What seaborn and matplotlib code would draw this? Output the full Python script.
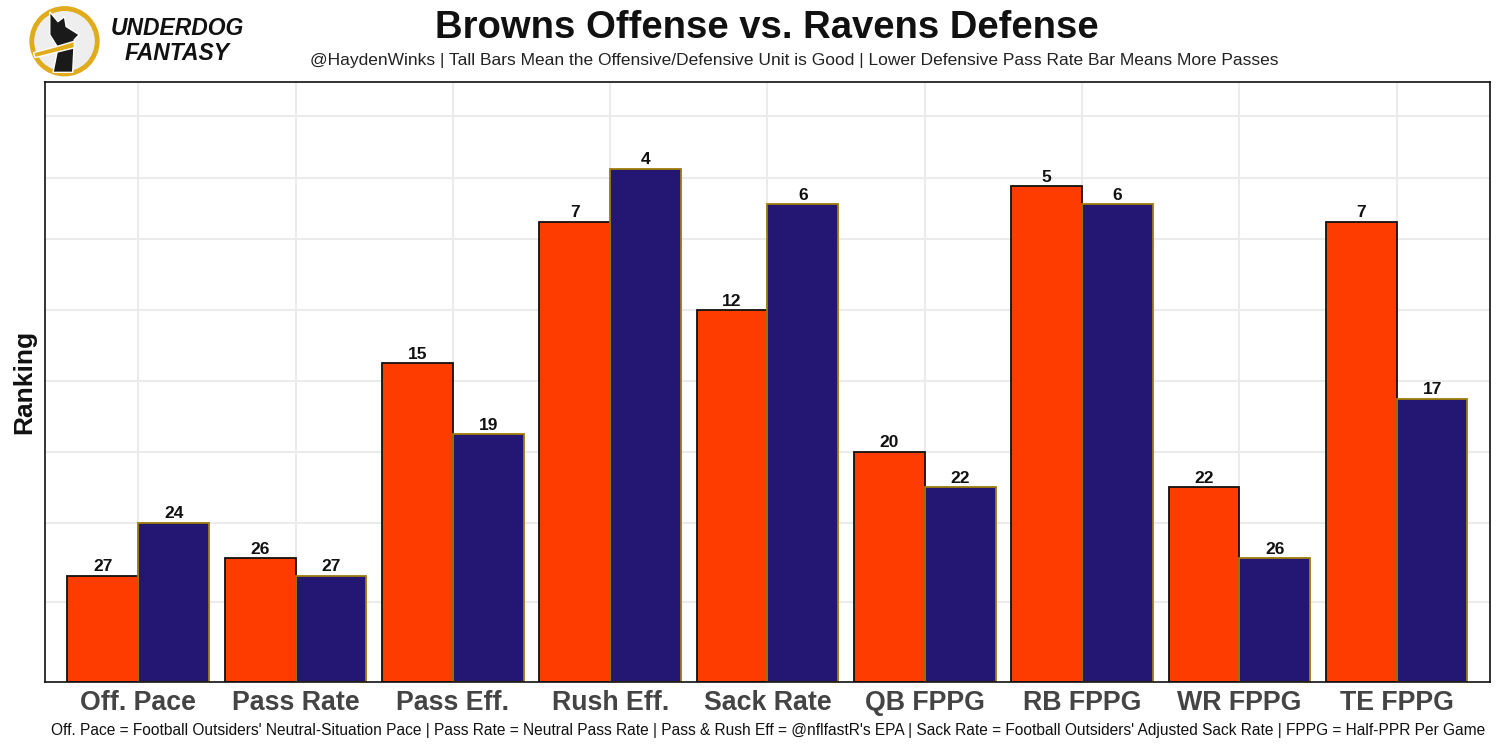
import pandas as pd
import matplotlib.pyplot as plt
import matplotlib.patches as mpatches
import seaborn as sns

# Rankings (1 = best)
categories = ["Off. Pace", "Pass Rate", "Pass Eff.", "Rush Eff.", "Sack Rate",
              "QB FPPG", "RB FPPG", "WR FPPG", "TE FPPG"]
browns_off_rank = [27, 26, 15, 7, 12, 20, 5, 22, 7]
ravens_def_rank = [24, 27, 19, 4, 6, 22, 6, 26, 17]
units = ["Browns Offense", "Ravens Defense"]
n_teams = 33  # tall bar = good rank, height = 33 - rank

rows = []
for unit, ranks in zip(units, [browns_off_rank, ravens_def_rank]):
    for cat, r in zip(categories, ranks):
        rows.append({"category": cat, "unit": unit, "rank": r, "height": n_teams - r})
df = pd.DataFrame(rows)

sns.set_theme(style="white")
plt.rcParams['font.family'] = ['Liberation Sans', 'DejaVu Sans']

fig = plt.figure(figsize=(15, 7.5), dpi=100)
ax = fig.add_axes([0.03, 0.0907, 0.9633, 0.80])

fills = {"Browns Offense": "#FF3C00", "Ravens Defense": "#241773"}
edges = {"Browns Offense": "#111111", "Ravens Defense": "#9E7C0C"}

# grid lines behind bars
for h in [4.5, 9, 13, 17, 21, 25, 28.5, 32]:
    ax.axhline(h, color="#ebebeb", lw=1.5, zorder=0)
for i in range(len(categories)):
    ax.axvline(i, color="#ebebeb", lw=1.5, zorder=0)

sns.barplot(data=df, x="category", y="height", hue="unit", palette=fills,
            width=0.9, saturation=1, ax=ax, legend=False, zorder=2)

for cont, unit, ranks in zip(ax.containers, units, [browns_off_rank, ravens_def_rank]):
    for bar in cont:
        bar.set_edgecolor(edges[unit])
        bar.set_linewidth(1.3)
    ax.bar_label(cont, labels=[str(r) for r in ranks], fontsize=12.5,
                 fontweight="bold", color="#111111", padding=1)

ax.set_xlim(-0.593, len(categories) - 1 + 0.593)
ax.set_ylim(0, 33.9)
ax.set_yticks([])
ax.set_xlabel("")
ax.set_ylabel("Ranking", fontsize=19, fontweight="bold", color="#111111", labelpad=6)
ax.tick_params(axis="x", length=0, pad=6, labelsize=19.3, labelcolor="#444444")
for lbl in ax.get_xticklabels():
    lbl.set_fontweight("bold")
for s in ax.spines.values():
    s.set_color("#111111")
    s.set_linewidth(1.2)

fig.text(0.511, 0.962, "Browns Offense vs. Ravens Defense", ha="center", va="center",
         fontsize=27.5, fontweight="bold", color="#111111")
fig.text(0.5297, 0.92, "@HaydenWinks | Tall Bars Mean the Offensive/Defensive Unit is Good | "
         "Lower Defensive Pass Rate Bar Means More Passes", ha="center", va="center",
         fontsize=12.5, color="#222222")
fig.text(0.512, 0.026, "Off. Pace = Football Outsiders' Neutral-Situation Pace | Pass Rate = Neutral Pass Rate | "
         "Pass & Rush Eff = @nflfastR's EPA | Sack Rate = Football Outsiders' Adjusted Sack Rate | "
         "FPPG = Half-PPR Per Game", ha="center", va="center", fontsize=11.2, color="#111111")

# logo
lax = fig.add_axes([0.019, 0.897, 0.048, 0.096])
lax.set_xlim(-1.1, 1.1)
lax.set_ylim(-1.1, 1.1)
lax.set_aspect("equal")
lax.axis("off")
lax.add_patch(mpatches.Circle((0, 0), 1.0, facecolor="#eeeeee", edgecolor="#E0AC1C", lw=3.5))
dog = [(-0.35, -0.95), (-0.2, -0.2), (-0.45, 0.2), (-0.45, 0.9), (-0.2, 0.6), (0.0, 0.75),
       (0.05, 0.45), (0.45, 0.2), (0.3, 0.05), (0.25, -0.95)]
lax.add_patch(mpatches.Polygon(dog, closed=True, facecolor="#1a1a1a"))
lax.add_patch(mpatches.Polygon([(-0.95, -0.35), (-0.2, -0.15), (0.3, 0.0), (0.3, -0.2),
                                (-0.3, -0.35), (-0.9, -0.5)], closed=True, facecolor="#E0AC1C"))
fig.text(0.074, 0.962, "UNDERDOG", fontsize=16.5, fontweight="heavy", style="italic",
         color="#111111", va="center")
fig.text(0.083, 0.928, "FANTASY", fontsize=16.5, fontweight="heavy", style="italic",
         color="#111111", va="center")

fig.savefig("out.png", dpi=100)
